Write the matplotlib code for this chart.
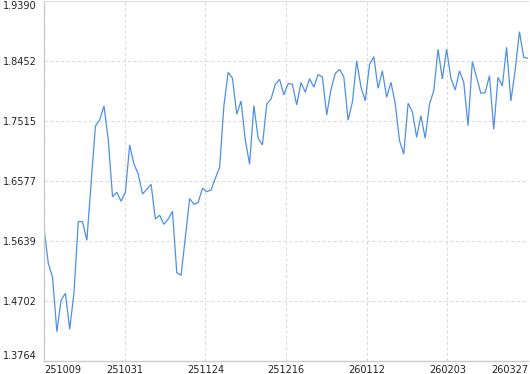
import numpy as np
import matplotlib
matplotlib.use("Agg")
import matplotlib.pyplot as plt

# ---- data ----
values = [
    1.5843, 1.5296, 1.5077, 1.4227, 1.4722, 1.4827, 1.4264, 1.4836, 1.5946, 1.5946,
    1.5655, 1.6550, 1.7440, 1.7535, 1.7754, 1.7233, 1.6336, 1.6405, 1.6265, 1.6405,
    1.7144, 1.6847, 1.6691, 1.6379, 1.6452, 1.6530, 1.5988, 1.6046, 1.5905, 1.5988,
    1.6108, 1.5150, 1.5108, 1.5700, 1.6308, 1.6218, 1.6249, 1.6468, 1.6415, 1.6441,
    1.6624, 1.6796, 1.7756, 1.8280, 1.8186, 1.7624, 1.7832, 1.7223, 1.6843, 1.7759,
    1.7249, 1.7144, 1.7780, 1.7863, 1.8093, 1.8171, 1.7928, 1.8105, 1.8093, 1.7770,
    1.8120, 1.7970, 1.8181, 1.8048, 1.8246, 1.8207, 1.7613, 1.8010, 1.8262, 1.8327,
    1.8210, 1.7532, 1.7816, 1.8457, 1.8051, 1.7835, 1.8400, 1.8525, 1.8030, 1.8301,
    1.7890, 1.8124, 1.7796, 1.7212, 1.7004, 1.7796, 1.7665, 1.7265, 1.7602, 1.7249,
    1.7785, 1.7993, 1.8640, 1.8176, 1.8640, 1.8187, 1.8004, 1.8301, 1.8124, 1.7447,
    1.8447, 1.8202, 1.7952, 1.7962, 1.8228, 1.7390, 1.8202, 1.8066, 1.8671, 1.7832,
    1.8311, 1.8915, 1.8515, 1.8499,
]
x_tick_labels = ["251009", "251031", "251124", "251216", "260112", "260203", "260327"]
y_tick_labels = ["1.3764", "1.4702", "1.5639", "1.6577", "1.7515", "1.8452", "1.9390"]
y_min, y_max = 1.3764, 1.9390

# ---- figure ----
W, H = 530, 374
fig = plt.figure(figsize=(W / 100, H / 100), dpi=100)
left, right, top, bottom = 44, 528, 1.3, 361.3
ax = fig.add_axes([left / W, (H - bottom) / H, (right - left) / W, (bottom - top) / H])

n = len(values)
x = np.arange(n)
ax.plot(x, values, color="#4f8fe6", linewidth=0.9, solid_joinstyle="miter")

ax.set_xlim(0, n - 1)
ax.set_ylim(y_min, y_max)

xt = np.linspace(0, n - 1, len(x_tick_labels))
yt = np.linspace(y_min, y_max, len(y_tick_labels))
ax.set_xticks(xt)
ax.set_xticklabels(x_tick_labels)
ax.set_yticks(yt)
ax.set_yticklabels(y_tick_labels)

grid_kw = dict(color="#dddddd", linewidth=0.8, linestyle=(0, (3, 2)))
ax.grid(True, **grid_kw)
ax.set_axisbelow(True)

ax.spines["right"].set_visible(False)
ax.spines["top"].set_color("#dddddd")
ax.spines["top"].set_linewidth(0.8)
ax.spines["left"].set_color("#cccccc")
ax.spines["bottom"].set_color("#cccccc")
ax.spines["left"].set_linewidth(1.0)
ax.spines["bottom"].set_linewidth(1.0)

ax.tick_params(axis="both", length=0, labelsize=7, labelcolor="#222222")
ax.tick_params(axis="y", pad=5)
ax.tick_params(axis="x", pad=3)

xl = ax.get_xticklabels()
xl[0].set_ha("left")
xl[-1].set_ha("right")
yl = ax.get_yticklabels()
yl[0].set_va("bottom")
yl[-1].set_va("top")

fig.savefig("out.png", dpi=100)
